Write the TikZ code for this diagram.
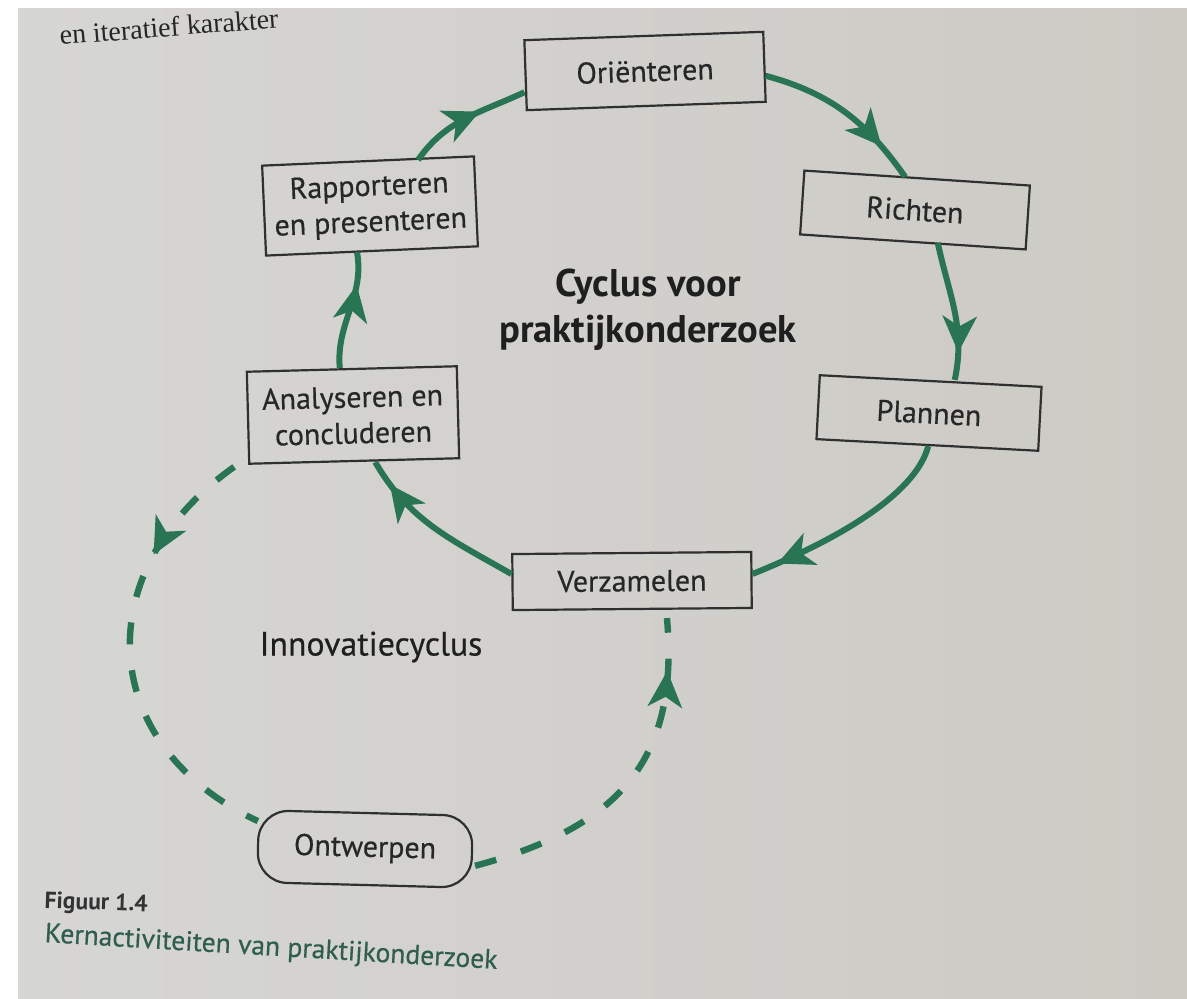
\documentclass[tikz,border=0pt]{standalone}
\usepackage{fontspec}
\setmainfont{PT Sans}
\newfontfamily\labelfont{PT Sans}[FakeBold=0.5]
\newfontfamily\bodyserif{Liberation Serif}
\usetikzlibrary{calc,arrows.meta,decorations.markings}
\definecolor{cgreen}{HTML}{287453}
\definecolor{paperL}{HTML}{D6D6D4}
\definecolor{paperR}{HTML}{CDCAC4}
\definecolor{boxline}{HTML}{2E312F}
\definecolor{labeltext}{HTML}{262827}
\definecolor{captgreen}{HTML}{2F5E4E}
\tikzset{
  stage/.style={draw=boxline, line width=1.1pt, text=labeltext,
    font=\labelfont\fontsize{15}{18}\selectfont, align=center, inner sep=0pt},
  flow/.style={draw=cgreen, line width=3pt},
  dashflow/.style={draw=cgreen, line width=3.2pt, dash pattern=on 11pt off 13pt},
  midarrow/.style={postaction={decorate,decoration={markings,
    mark=at position #1 with {\arrow{Stealth[length=18pt,width=17pt,inset=5pt,color=cgreen]}}}}}
}
\begin{document}
\begin{tikzpicture}[x=0.5pt,y=0.5pt]
\useasboundingbox (0,0) rectangle (1187,-999);
\fill[white] (0,0) rectangle (1187,-999);
\shade[left color=paperL, right color=paperR] (18,-8) rectangle (1187,-999);
\node[font=\bodyserif\fontsize{14}{16}\selectfont, rotate=4.5, anchor=base west, inner sep=0pt, text=black!85] (topline) at (60,-45) {en iteratief karakter};

% research cycle
\node[stage, rotate=2, minimum width=119.5pt, minimum height=35pt] (ori) at (645,-71) {Oriënteren};
\node[stage, rotate=-3.8, minimum width=113pt, minimum height=32pt] (rich) at (915,-210) {Richten};
\node[stage, rotate=-3, minimum width=111pt, minimum height=32pt] (plan) at (929,-413) {Plannen};
\node[stage, rotate=0.5, minimum width=119.5pt, minimum height=28pt] (verz) at (632,-581) {Verzamelen};
\node[stage, rotate=1.5, minimum width=105pt, minimum height=46pt] (ana) at (353,-415) {Analyseren en\\concluderen};
\node[stage, rotate=2.5, minimum width=106pt, minimum height=45pt] (rap) at (370,-206) {Rapporteren\\en presenteren};
\node[stage, rotate=-1.5, rounded corners=15pt, minimum width=107pt, minimum height=36pt] (ont) at (365,-849) {Ontwerpen};

\node[font=\fontsize{19.3}{23}\selectfont\bfseries, text=black!88, align=center] (title) at (648,-310) {Cyclus voor\\praktijkonderzoek};
\node[font=\labelfont\fontsize{16.9}{19}\selectfont, text=black!88] (innov) at (371,-647) {Innovatiecyclus};

\node[font=\fontsize{11.8}{14}\selectfont\bfseries, text=black!80, anchor=base west, inner sep=0pt, rotate=-2] (fig) at (44,-908) {Figuur 1.4};
\node[font=\labelfont\fontsize{13.8}{16}\selectfont, text=captgreen, anchor=base west, inner sep=0pt, rotate=-3.4] (cap) at (44,-942) {Kernactiviteiten van praktijkonderzoek};

\draw[flow, midarrow=0.62] ($(rap.north)+(50,0)$) to[out=55,in=205] ($(ori.west)+(0,-17)$);
\draw[flow, midarrow=0.78] ($(ori.east)+(0,-9)$) to[out=-15,in=125] ($(rich.north)+(-12,0)$);
\draw[flow, midarrow=0.8] ($(rich.south)+(25,0)$) to[out=-78,in=78] ($(plan.north)+(24,0)$);
\draw[flow, midarrow=0.88] ($(plan.south)+(1,0)$) to[out=-105,in=22,looseness=0.7] ($(verz.east)+(0,6)$);
\draw[flow, midarrow=0.85] ($(verz.west)+(0,8)$) to[out=150,in=-60] ($(ana.south)+(21,0)$);
\draw[flow, midarrow=0.72] ($(ana.north)+(-12,0)$) to[out=95,in=-80] ($(rap.south)+(-15,0)$);

% innovation cycle
\draw[dashflow, midarrow=0.27] ($(ana.south west)+(-14,-2)$) .. controls (88,-570) and (95,-745) .. ($(ont.north west)+(0,-12)$);
\draw[dashflow, midarrow=0.83, shorten >=4pt] ($(ont.east)+(2,-14)$) to[out=15,in=-85,looseness=1.2] ($(verz.south)+(34,0)$);

\fill[white] (0,0) rectangle (1187,-8);
\fill[white] (0,0) rectangle (18,-999);
\end{tikzpicture}
\end{document}
